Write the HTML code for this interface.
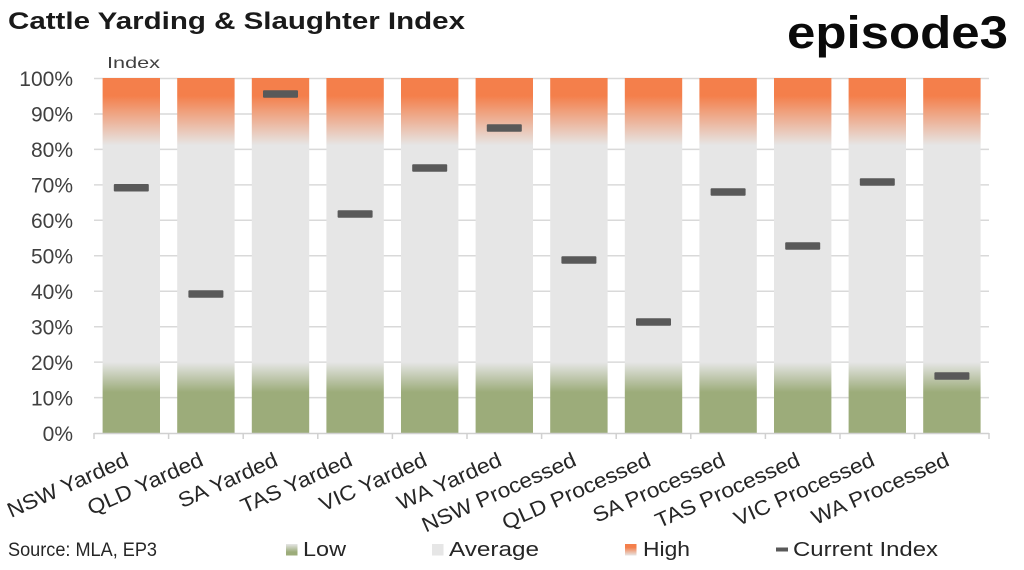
<!DOCTYPE html>
<html><head><meta charset="utf-8">
<style>
html,body{margin:0;padding:0;background:#fff;}
svg{display:block;}
text{font-family:"Liberation Sans",sans-serif;}
</style></head>
<body>
<svg width="1024" height="570" viewBox="0 0 1024 570" xmlns="http://www.w3.org/2000/svg">
<defs>
<linearGradient id="bar" x1="0" y1="0" x2="0" y2="1">
<stop offset="0" stop-color="#F47F4B"/>
<stop offset="0.05" stop-color="#F47F4B"/>
<stop offset="0.19" stop-color="#E6E6E6"/>
<stop offset="0.80" stop-color="#E6E6E6"/>
<stop offset="0.885" stop-color="#9CAC7A"/>
<stop offset="1" stop-color="#9CAC7A"/>
</linearGradient>
<linearGradient id="lowL" x1="0" y1="0" x2="0" y2="1">
<stop offset="0" stop-color="#E6E6E6"/><stop offset="0.7" stop-color="#9CAC7A"/><stop offset="1" stop-color="#9CAC7A"/>
</linearGradient>
<linearGradient id="highL" x1="0" y1="0" x2="0" y2="1">
<stop offset="0" stop-color="#F47F4B"/><stop offset="0.3" stop-color="#F47F4B"/><stop offset="1" stop-color="#E6E6E6"/>
</linearGradient>
</defs>

<!-- Title -->
<text x="8" y="29" font-size="24" font-weight="bold" fill="#1a1a1a" textLength="457" lengthAdjust="spacingAndGlyphs">Cattle Yarding &amp; Slaughter Index</text>
<!-- Logo -->
<text x="787" y="48" font-size="45" font-weight="bold" fill="#0a0a0a" textLength="221" lengthAdjust="spacingAndGlyphs">episode3</text>

<!-- Index label -->
<text x="107" y="68" font-size="16" fill="#404040" textLength="53" lengthAdjust="spacingAndGlyphs">Index</text>

<!-- gridlines -->
<g stroke="#D9D9D9" stroke-width="1.5">
<line x1="94" y1="78.5" x2="989" y2="78.5"/>
<line x1="94" y1="114" x2="989" y2="114"/>
<line x1="94" y1="149.4" x2="989" y2="149.4"/>
<line x1="94" y1="184.9" x2="989" y2="184.9"/>
<line x1="94" y1="220.3" x2="989" y2="220.3"/>
<line x1="94" y1="255.8" x2="989" y2="255.8"/>
<line x1="94" y1="291.2" x2="989" y2="291.2"/>
<line x1="94" y1="326.7" x2="989" y2="326.7"/>
<line x1="94" y1="362.1" x2="989" y2="362.1"/>
<line x1="94" y1="397.6" x2="989" y2="397.6"/>
</g>

<!-- y labels -->
<g font-size="21" fill="#404040" text-anchor="end">
<text x="73" y="86">100%</text>
<text x="73" y="121.5">90%</text>
<text x="73" y="157">80%</text>
<text x="73" y="192.5">70%</text>
<text x="73" y="228">60%</text>
<text x="73" y="263.5">50%</text>
<text x="73" y="299">40%</text>
<text x="73" y="334.5">30%</text>
<text x="73" y="370">20%</text>
<text x="73" y="405.5">10%</text>
<text x="73" y="441">0%</text>
</g>

<!-- bars -->
<g fill="url(#bar)">
<rect x="102.6" y="78" width="57.4" height="355"/>
<rect x="177.2" y="78" width="57.4" height="355"/>
<rect x="251.8" y="78" width="57.4" height="355"/>
<rect x="326.4" y="78" width="57.4" height="355"/>
<rect x="401.0" y="78" width="57.4" height="355"/>
<rect x="475.6" y="78" width="57.4" height="355"/>
<rect x="550.2" y="78" width="57.4" height="355"/>
<rect x="624.8" y="78" width="57.4" height="355"/>
<rect x="699.4" y="78" width="57.4" height="355"/>
<rect x="774.0" y="78" width="57.4" height="355"/>
<rect x="848.6" y="78" width="57.4" height="355"/>
<rect x="923.2" y="78" width="57.4" height="355"/>
</g>

<!-- axis -->
<g stroke="#D0D0D0" stroke-width="1.5">
<line x1="94" y1="433.5" x2="989" y2="433.5"/>
<line x1="94" y1="433" x2="94" y2="439"/>
<line x1="168.6" y1="433" x2="168.6" y2="439"/>
<line x1="243.2" y1="433" x2="243.2" y2="439"/>
<line x1="317.8" y1="433" x2="317.8" y2="439"/>
<line x1="392.4" y1="433" x2="392.4" y2="439"/>
<line x1="467" y1="433" x2="467" y2="439"/>
<line x1="541.6" y1="433" x2="541.6" y2="439"/>
<line x1="616.2" y1="433" x2="616.2" y2="439"/>
<line x1="690.8" y1="433" x2="690.8" y2="439"/>
<line x1="765.4" y1="433" x2="765.4" y2="439"/>
<line x1="840" y1="433" x2="840" y2="439"/>
<line x1="914.6" y1="433" x2="914.6" y2="439"/>
<line x1="989" y1="433" x2="989" y2="439"/>
</g>

<!-- markers -->
<g fill="#595959">
<rect x="113.8" y="184" width="35" height="7.5" rx="1"/>
<rect x="188.4" y="290.3" width="35" height="7.5" rx="1"/>
<rect x="263" y="90.3" width="35" height="7.5" rx="1"/>
<rect x="337.6" y="210.3" width="35" height="7.5" rx="1"/>
<rect x="412.2" y="164.3" width="35" height="7.5" rx="1"/>
<rect x="486.8" y="124.3" width="35" height="7.5" rx="1"/>
<rect x="561.4" y="256.3" width="35" height="7.5" rx="1"/>
<rect x="636" y="318.3" width="35" height="7.5" rx="1"/>
<rect x="710.6" y="188.3" width="35" height="7.5" rx="1"/>
<rect x="785.2" y="242.3" width="35" height="7.5" rx="1"/>
<rect x="859.8" y="178.3" width="35" height="7.5" rx="1"/>
<rect x="934.4" y="372.3" width="35" height="7.5" rx="1"/>
</g>

<!-- category labels -->
<g font-size="21" fill="#262626" text-anchor="end">
<text transform="translate(130,465) rotate(-24) scale(1.08,1)">NSW Yarded</text>
<text transform="translate(204.6,465) rotate(-24) scale(1.08,1)">QLD Yarded</text>
<text transform="translate(279.2,465) rotate(-24) scale(1.08,1)">SA Yarded</text>
<text transform="translate(353.8,465) rotate(-24) scale(1.08,1)">TAS Yarded</text>
<text transform="translate(428.4,465) rotate(-24) scale(1.08,1)">VIC Yarded</text>
<text transform="translate(503,465) rotate(-24) scale(1.08,1)">WA Yarded</text>
<text transform="translate(577.6,465) rotate(-24) scale(1.08,1)">NSW Processed</text>
<text transform="translate(652.2,465) rotate(-24) scale(1.08,1)">QLD Processed</text>
<text transform="translate(726.8,465) rotate(-24) scale(1.08,1)">SA Processed</text>
<text transform="translate(801.4,465) rotate(-24) scale(1.08,1)">TAS Processed</text>
<text transform="translate(876,465) rotate(-24) scale(1.08,1)">VIC Processed</text>
<text transform="translate(950.6,465) rotate(-24) scale(1.08,1)">WA Processed</text>
</g>

<!-- source -->
<text x="8" y="556" font-size="19" fill="#262626" textLength="149" lengthAdjust="spacingAndGlyphs">Source: MLA, EP3</text>

<!-- legend -->
<rect x="286" y="544" width="11.5" height="11.5" fill="url(#lowL)"/>
<text x="303" y="556" font-size="20" fill="#262626" textLength="43" lengthAdjust="spacingAndGlyphs">Low</text>
<rect x="432" y="544" width="11.5" height="11.5" fill="#E6E6E6"/>
<text x="449" y="556" font-size="20" fill="#262626" textLength="90" lengthAdjust="spacingAndGlyphs">Average</text>
<rect x="625" y="544" width="11.5" height="11.5" fill="url(#highL)"/>
<text x="643" y="556" font-size="20" fill="#262626" textLength="47" lengthAdjust="spacingAndGlyphs">High</text>
<rect x="776" y="547.5" width="12" height="4" fill="#595959"/>
<text x="793" y="556" font-size="20" fill="#262626" textLength="145" lengthAdjust="spacingAndGlyphs">Current Index</text>
</svg>
</body></html>
